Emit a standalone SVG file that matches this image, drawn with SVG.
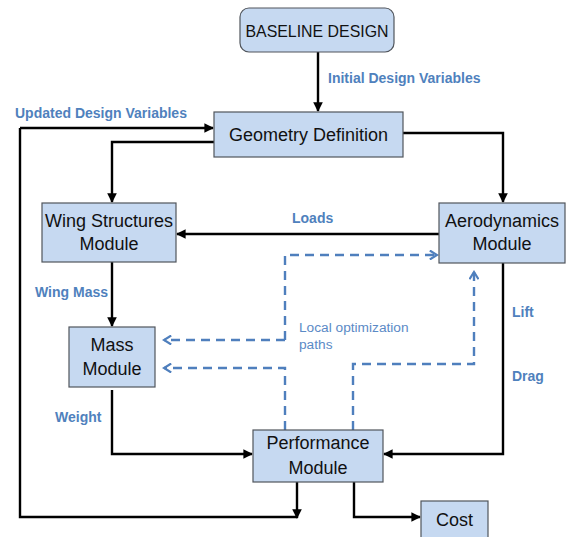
<svg xmlns="http://www.w3.org/2000/svg" width="566" height="537" viewBox="0 0 566 537">
<defs>
<marker id="ah" viewBox="0 0 10 10" refX="9" refY="5" markerWidth="4" markerHeight="4" orient="auto" markerUnits="strokeWidth">
<path d="M0,0 L10,5 L0,10 z" fill="#000"/>
</marker>
<marker id="dh" viewBox="0 0 12 12" refX="10" refY="6" markerWidth="4.5" markerHeight="4.5" orient="auto" markerUnits="strokeWidth">
<path d="M2,1 L10,6 L2,11" fill="none" stroke="#4f7fbd" stroke-width="2.4"/>
</marker>
<style>
.node{fill:#c6d9f1;stroke:#50555c;stroke-width:1.2}
.nt{font-family:"Liberation Sans",Arial,sans-serif;font-size:18px;fill:#111;text-anchor:middle}
.lb{font-family:"Liberation Sans",Arial,sans-serif;font-size:14px;font-weight:bold;fill:#4f81bd}
.lo{font-family:"Liberation Sans",Arial,sans-serif;font-size:13.7px;fill:#5b8ac6}
.c{fill:none;stroke:#000;stroke-width:2.4;marker-end:url(#ah)}
.cn{fill:none;stroke:#000;stroke-width:2.4}
.d{fill:none;stroke:#4f7fbd;stroke-width:2.4;stroke-dasharray:9,6}
</style>
</defs>
<g id="connectors">
<path class="c" d="M318,52 V111"/>
<path class="c" d="M214,142 H112 V202"/>
<path class="c" d="M403,133 H503 V202"/>
<path class="c" d="M439,234 H177"/>
<path class="c" d="M112,262 V326"/>
<path class="c" d="M112,390 V454 H252"/>
<path class="c" d="M503,263 V454 H384"/>
<path class="c" d="M297,482 V518"/>
<path class="cn" d="M297,517 H20 V128"/>
<path class="c" d="M20,128 H213"/>
<path class="c" d="M354,482 V517 H420"/>
<path class="d" d="M285,340 V255 H437" marker-end="url(#dh)"/>
<path class="d" d="M285,340 H164" marker-end="url(#dh)"/>
<path class="d" d="M285,430 V368 H164" marker-end="url(#dh)"/>
<path class="d" d="M353,430 V364 H474 V272" marker-end="url(#dh)"/>
</g>
<g id="labels">
<text class="lb" x="328" y="83">Initial Design Variables</text>
<text class="lb" x="15" y="118">Updated Design Variables</text>
<text class="lb" x="292" y="223">Loads</text>
<text class="lb" x="35" y="297">Wing Mass</text>
<text class="lb" x="512" y="317">Lift</text>
<text class="lb" x="512" y="381">Drag</text>
<text class="lb" x="55" y="422">Weight</text>
<text class="lo" x="299" y="332">Local optimization</text>
<text class="lo" x="299" y="349">paths</text>
</g>
<g id="baseline">
<rect class="node" x="240" y="8" width="154" height="44" rx="9"/>
<text class="nt" x="317" y="37" style="font-size:17px" textLength="143" lengthAdjust="spacingAndGlyphs">BASELINE DESIGN</text>
</g>
<g id="geometry">
<rect class="node" x="214" y="112" width="189" height="45"/>
<text class="nt" x="308.5" y="141">Geometry Definition</text>
</g>
<g id="wing">
<rect class="node" x="42" y="203" width="134" height="59"/>
<text class="nt" x="109" y="227">Wing Structures</text>
<text class="nt" x="109" y="250">Module</text>
</g>
<g id="aero">
<rect class="node" x="439" y="203" width="126" height="60"/>
<text class="nt" x="502" y="227">Aerodynamics</text>
<text class="nt" x="502" y="250">Module</text>
</g>
<g id="mass">
<rect class="node" x="69" y="327" width="86" height="60"/>
<text class="nt" x="112" y="351">Mass</text>
<text class="nt" x="112" y="375">Module</text>
</g>
<g id="performance">
<rect class="node" x="253" y="430" width="130" height="52"/>
<text class="nt" x="318" y="449">Performance</text>
<text class="nt" x="318" y="474">Module</text>
</g>
<g id="cost">
<rect class="node" x="421" y="501" width="67" height="40"/>
<text class="nt" x="454.5" y="526">Cost</text>
</g>
</svg>
